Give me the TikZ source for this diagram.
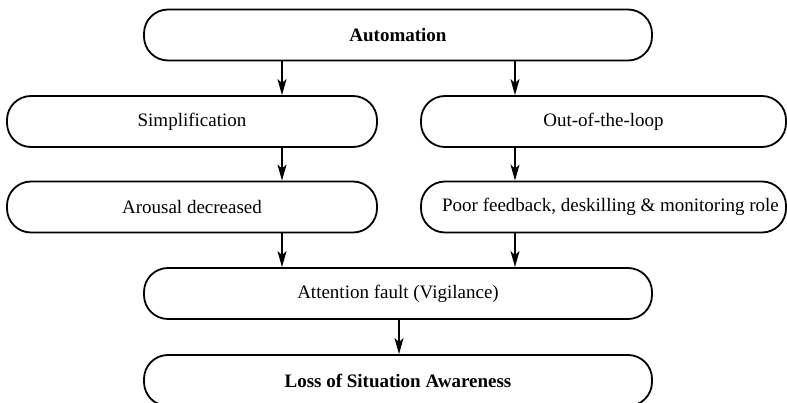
\documentclass[tikz,border=0pt]{standalone}
\usepackage{fontspec}
\setmainfont{Liberation Serif}
\usetikzlibrary{arrows.meta}
\begin{document}
\begin{tikzpicture}[x=1pt,y=-1pt,
  box/.style={draw, line width=1.8pt, rounded corners=24pt, minimum height=51pt,
    inner sep=0pt, font=\fontsize{19}{22}\selectfont},
  arr/.style={-{Stealth[length=16pt,width=9pt,inset=4pt]}, line width=1.6pt}]
\useasboundingbox (0,0) rectangle (787,403);
\node[box, minimum width=508pt, font=\fontsize{19}{22}\selectfont\bfseries] (auto) at (398,35) {Automation};
\node[box, minimum width=370pt] (simp) at (192,121.5) {Simplification};
\node[box, minimum width=365pt] (ootl) at (603.5,121.5) {Out-of-the-loop};
\node[box, minimum width=370pt] (arou) at (192,207) {Arousal decreased};
\node[box, minimum width=365pt] (poor) at (603.5,207) {\hspace*{14pt}Poor feedback, deskilling \& monitoring role};
\node[box, minimum width=508pt] (att) at (398,293.5) {Attention fault (Vigilance)};
\node[box, minimum width=508pt, font=\fontsize{19}{22}\selectfont\bfseries] (loss) at (398,380.5) {Loss of Situation Awareness};
\coordinate (xl) at (282,0);
\coordinate (xr) at (515,0);
\coordinate (xm) at (399,0);
\draw[arr] (auto.south -| xl) -- (simp.north -| xl);
\draw[arr] (auto.south -| xr) -- (ootl.north -| xr);
\draw[arr] (simp.south -| xl) -- (arou.north -| xl);
\draw[arr] (ootl.south -| xr) -- (poor.north -| xr);
\draw[arr] (arou.south -| xl) -- (att.north -| xl);
\draw[arr] (poor.south -| xr) -- (att.north -| xr);
\draw[arr] (att.south -| xm) -- (loss.north -| xm);
\end{tikzpicture}
\end{document}
